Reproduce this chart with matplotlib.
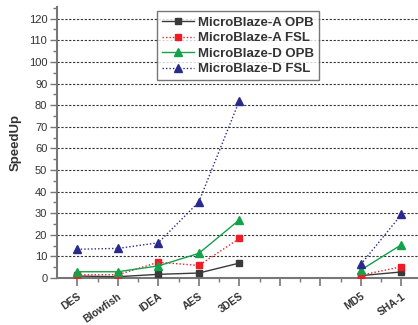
import numpy as np
import matplotlib
matplotlib.use("Agg")
import matplotlib.pyplot as plt
from matplotlib.ticker import MultipleLocator

plt.rcParams['font.family'] = ['Liberation Sans', 'DejaVu Sans']

categories = ['DES', 'Blowfish', 'IDEA', 'AES', '3DES', '', '', 'MD5', 'SHA-1']
a_opb = [0.9, 0.6, 1.7, 2.3, 6.9, np.nan, np.nan, 1.1, 2.8]
a_fsl = [1.5, 1.5, 7.3, 5.8, 18.3, np.nan, np.nan, 1.3, 5.2]
d_opb = [2.9, 2.9, 5.6, 11.4, 26.9, np.nan, np.nan, 3.7, 15.4]
d_fsl = [13.3, 13.7, 16.3, 35.2, 82.0, np.nan, np.nan, 6.3, 29.4]
series_names = ['MicroBlaze-A OPB', 'MicroBlaze-A FSL', 'MicroBlaze-D OPB', 'MicroBlaze-D FSL']

fig = plt.figure(figsize=(4.18, 3.25), dpi=100)
ax = fig.add_axes([0.1364, 0.1446, 0.8636, 0.8338])
x = np.arange(1, len(categories) + 1)

ax.plot(x, a_opb, color='#3a3a3a', ls='-', lw=1.0, marker='s', ms=4.5, label=series_names[0], zorder=3)
ax.plot(x, a_fsl, color='#ee1c24', ls=(0, (1, 1.5)), lw=1.0, marker='s', ms=4.5, label=series_names[1], zorder=3)
ax.plot(x, d_opb, color='#12a24a', ls='-', lw=1.0, marker='^', ms=6, label=series_names[2], zorder=3)
ax.plot(x, d_fsl, color='#2a2a8c', ls=(0, (1, 1.5)), lw=1.0, marker='^', ms=6, label=series_names[3], zorder=3)

ax.set_xlim(0.5, 9.41)
ax.set_ylim(0, 125.4)
ax.yaxis.set_major_locator(MultipleLocator(10))
ax.yaxis.set_minor_locator(MultipleLocator(5))
ax.set_yticks(np.arange(0, 121, 10))
ax.set_xticks(x)
ax.set_xticks(np.arange(1.5, 9.5, 1), minor=True)
ax.set_xticklabels(categories, rotation=35, ha='right', rotation_mode='anchor',
                   fontsize=7.5, fontweight='bold', color='#333333')
for lab in ax.get_yticklabels():
    lab.set_fontsize(8)
    lab.set_color('#333333')

for y in np.arange(10, 121, 10):
    ax.axhline(y, color='#333333', ls=(0, (2, 1.5)), lw=0.8, zorder=1)

for s in ['top', 'right']:
    ax.spines[s].set_visible(False)
ax.spines['left'].set_color('#777777')
ax.spines['left'].set_linewidth(1.5)
ax.spines['bottom'].set_color('#777777')
ax.spines['bottom'].set_linewidth(1.5)
ax.tick_params(axis='y', which='major', length=5, width=1, color='#777777', pad=2)
ax.tick_params(axis='y', which='minor', length=3, width=1, color='#777777')
ax.tick_params(axis='x', which='major', length=6, width=1.2, color='#777777', pad=3.5)
ax.tick_params(axis='x', which='minor', length=3, width=1, color='#777777')

ax.set_ylabel('SpeedUp', fontsize=9.5, fontweight='bold', color='#333333', labelpad=5)

leg = ax.legend(loc='upper left', bbox_to_anchor=(0.277, 0.985), borderaxespad=0,
                frameon=True, fancybox=False,
                edgecolor='#555555', prop={'size': 9.5, 'weight': 'bold'},
                handlelength=2.4, handletextpad=0.3, labelspacing=0.25, borderpad=0.4,
                markerscale=0.9)
leg.get_frame().set_linewidth(1.0)
for t in leg.get_texts():
    t.set_color('#333333')

fig.savefig('out.png', dpi=100)
